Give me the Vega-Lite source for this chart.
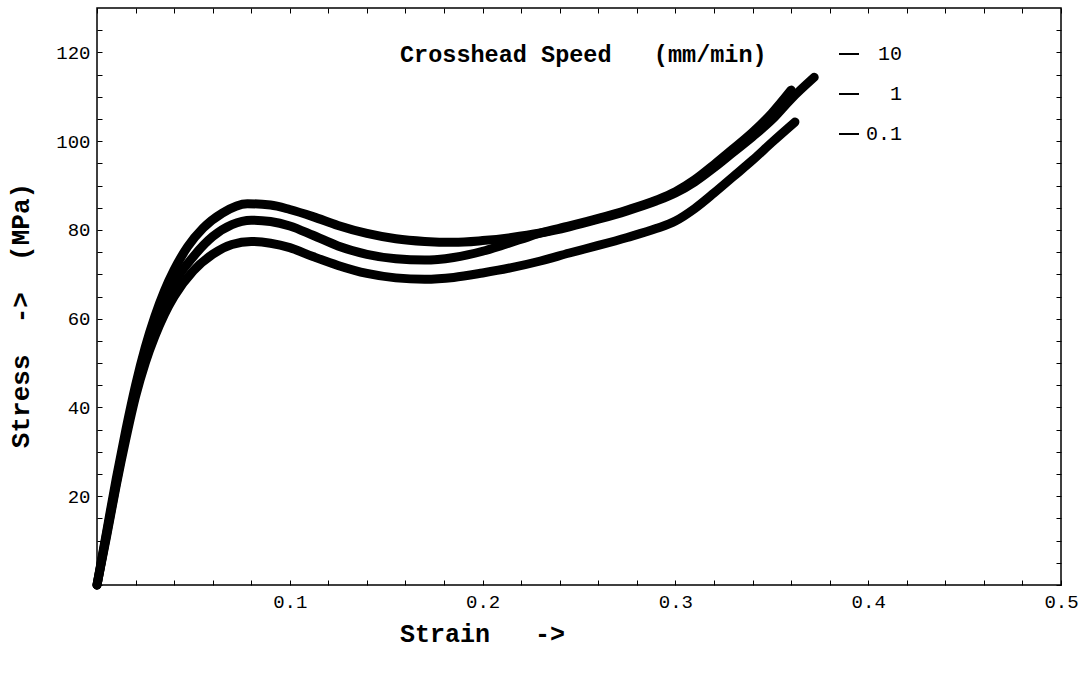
{
  "$schema": "https://vega.github.io/schema/vega-lite/v6.json",
  "width": 964,
  "height": 577,
  "autosize": {"type": "none"},
  "padding": {"left": 97, "top": 8, "right": 22, "bottom": 90},
  "background": "white",
  "config": {
    "view": {"stroke": "black", "strokeWidth": 1.5},
    "font": "Liberation Mono",
    "axis": {"grid": false, "domain": false, "tickColor": "black", "tickWidth": 1, "labelColor": "black", "titleColor": "black", "labelFont": "Liberation Mono", "titleFont": "Liberation Mono"}
  },
  "data": {
    "values": [
      {"speed": "10", "strain": 0, "stress": 0},
      {"speed": "10", "strain": 0.005, "stress": 12},
      {"speed": "10", "strain": 0.01, "stress": 24},
      {"speed": "10", "strain": 0.015, "stress": 35},
      {"speed": "10", "strain": 0.02, "stress": 45},
      {"speed": "10", "strain": 0.025, "stress": 53.5},
      {"speed": "10", "strain": 0.03, "stress": 60.5},
      {"speed": "10", "strain": 0.035, "stress": 66.3},
      {"speed": "10", "strain": 0.04, "stress": 71},
      {"speed": "10", "strain": 0.047, "stress": 76.2},
      {"speed": "10", "strain": 0.055, "stress": 80.4},
      {"speed": "10", "strain": 0.065, "stress": 83.8},
      {"speed": "10", "strain": 0.078, "stress": 85.9},
      {"speed": "10", "strain": 0.09, "stress": 85.6},
      {"speed": "10", "strain": 0.1, "stress": 84.6},
      {"speed": "10", "strain": 0.112, "stress": 83},
      {"speed": "10", "strain": 0.125, "stress": 81},
      {"speed": "10", "strain": 0.14, "stress": 79.2},
      {"speed": "10", "strain": 0.155, "stress": 78},
      {"speed": "10", "strain": 0.17, "stress": 77.4},
      {"speed": "10", "strain": 0.185, "stress": 77.2},
      {"speed": "10", "strain": 0.2, "stress": 77.6},
      {"speed": "10", "strain": 0.215, "stress": 78.3},
      {"speed": "10", "strain": 0.23, "stress": 79.3},
      {"speed": "10", "strain": 0.245, "stress": 80.7},
      {"speed": "10", "strain": 0.26, "stress": 82.4},
      {"speed": "10", "strain": 0.275, "stress": 84.3},
      {"speed": "10", "strain": 0.29, "stress": 86.5},
      {"speed": "10", "strain": 0.3, "stress": 88.3},
      {"speed": "10", "strain": 0.31, "stress": 90.8},
      {"speed": "10", "strain": 0.32, "stress": 94},
      {"speed": "10", "strain": 0.33, "stress": 97.5},
      {"speed": "10", "strain": 0.34, "stress": 101},
      {"speed": "10", "strain": 0.35, "stress": 104.8},
      {"speed": "10", "strain": 0.36, "stress": 109.5},
      {"speed": "10", "strain": 0.372, "stress": 114.4},
      {"speed": "1", "strain": 0, "stress": 0},
      {"speed": "1", "strain": 0.005, "stress": 11.5},
      {"speed": "1", "strain": 0.01, "stress": 23},
      {"speed": "1", "strain": 0.015, "stress": 34},
      {"speed": "1", "strain": 0.02, "stress": 43.5},
      {"speed": "1", "strain": 0.025, "stress": 51.5},
      {"speed": "1", "strain": 0.03, "stress": 58},
      {"speed": "1", "strain": 0.035, "stress": 63.5},
      {"speed": "1", "strain": 0.04, "stress": 68},
      {"speed": "1", "strain": 0.05, "stress": 74},
      {"speed": "1", "strain": 0.06, "stress": 78.5},
      {"speed": "1", "strain": 0.07, "stress": 81.2},
      {"speed": "1", "strain": 0.08, "stress": 82.2},
      {"speed": "1", "strain": 0.09, "stress": 81.9},
      {"speed": "1", "strain": 0.1, "stress": 80.9},
      {"speed": "1", "strain": 0.112, "stress": 78.8},
      {"speed": "1", "strain": 0.125, "stress": 76.4},
      {"speed": "1", "strain": 0.14, "stress": 74.5},
      {"speed": "1", "strain": 0.155, "stress": 73.5},
      {"speed": "1", "strain": 0.17, "stress": 73.2},
      {"speed": "1", "strain": 0.185, "stress": 73.8},
      {"speed": "1", "strain": 0.2, "stress": 75.2},
      {"speed": "1", "strain": 0.21, "stress": 76.5},
      {"speed": "1", "strain": 0.22, "stress": 77.9},
      {"speed": "1", "strain": 0.23, "stress": 79.3},
      {"speed": "1", "strain": 0.245, "stress": 80.9},
      {"speed": "1", "strain": 0.26, "stress": 82.6},
      {"speed": "1", "strain": 0.275, "stress": 84.5},
      {"speed": "1", "strain": 0.29, "stress": 86.7},
      {"speed": "1", "strain": 0.3, "stress": 88.6},
      {"speed": "1", "strain": 0.31, "stress": 91.3},
      {"speed": "1", "strain": 0.32, "stress": 94.7},
      {"speed": "1", "strain": 0.33, "stress": 98.3},
      {"speed": "1", "strain": 0.34, "stress": 102},
      {"speed": "1", "strain": 0.35, "stress": 106.3},
      {"speed": "1", "strain": 0.36, "stress": 111.5},
      {"speed": "0.1", "strain": 0, "stress": 0},
      {"speed": "0.1", "strain": 0.005, "stress": 11},
      {"speed": "0.1", "strain": 0.01, "stress": 22.5},
      {"speed": "0.1", "strain": 0.015, "stress": 33},
      {"speed": "0.1", "strain": 0.02, "stress": 42.5},
      {"speed": "0.1", "strain": 0.025, "stress": 50},
      {"speed": "0.1", "strain": 0.03, "stress": 56},
      {"speed": "0.1", "strain": 0.035, "stress": 61},
      {"speed": "0.1", "strain": 0.04, "stress": 65},
      {"speed": "0.1", "strain": 0.05, "stress": 70.8},
      {"speed": "0.1", "strain": 0.06, "stress": 74.5},
      {"speed": "0.1", "strain": 0.07, "stress": 76.7},
      {"speed": "0.1", "strain": 0.08, "stress": 77.4},
      {"speed": "0.1", "strain": 0.09, "stress": 77},
      {"speed": "0.1", "strain": 0.1, "stress": 76},
      {"speed": "0.1", "strain": 0.112, "stress": 74},
      {"speed": "0.1", "strain": 0.125, "stress": 72},
      {"speed": "0.1", "strain": 0.14, "stress": 70.2},
      {"speed": "0.1", "strain": 0.155, "stress": 69.2},
      {"speed": "0.1", "strain": 0.17, "stress": 68.9},
      {"speed": "0.1", "strain": 0.185, "stress": 69.3},
      {"speed": "0.1", "strain": 0.2, "stress": 70.3},
      {"speed": "0.1", "strain": 0.215, "stress": 71.5},
      {"speed": "0.1", "strain": 0.23, "stress": 73},
      {"speed": "0.1", "strain": 0.245, "stress": 74.8},
      {"speed": "0.1", "strain": 0.26, "stress": 76.5},
      {"speed": "0.1", "strain": 0.275, "stress": 78.3},
      {"speed": "0.1", "strain": 0.29, "stress": 80.3},
      {"speed": "0.1", "strain": 0.3, "stress": 82},
      {"speed": "0.1", "strain": 0.31, "stress": 84.8},
      {"speed": "0.1", "strain": 0.32, "stress": 88.3},
      {"speed": "0.1", "strain": 0.33, "stress": 92},
      {"speed": "0.1", "strain": 0.34, "stress": 95.7},
      {"speed": "0.1", "strain": 0.35, "stress": 99.7},
      {"speed": "0.1", "strain": 0.362, "stress": 104.3}
    ]
  },
  "layer": [
    {
      "mark": {"type": "line", "strokeWidth": 9, "strokeCap": "round", "strokeJoin": "round", "interpolate": "monotone"},
      "encoding": {
        "x": {
          "field": "strain", "type": "quantitative",
          "scale": {"domain": [0, 0.5], "nice": false, "zero": false},
          "axis": {
            "orient": "bottom",
            "values": [0, 0.02, 0.04, 0.06, 0.08, 0.1, 0.12, 0.14, 0.16, 0.18, 0.2, 0.22, 0.24, 0.26, 0.28, 0.3, 0.32, 0.34, 0.36, 0.38, 0.4, 0.42, 0.44, 0.46, 0.48, 0.5],
            "labelExpr": "datum.value > 0 && abs(datum.value * 10 - round(datum.value * 10)) < 0.001 ? format(datum.value, '.1f') : ''",
            "labelOverlap": false,
            "labelFlush": false,
            "labelFontSize": 19,
            "tickSize": -5,
            "labelPadding": 12,
            "title": "Strain\u00a0\u00a0\u00a0->",
            "titleFontSize": 25,
            "titleFontWeight": "bold",
            "titleX": 385,
            "titleY": 36,
            "titleAlign": "center",
            "titleBaseline": "top"
          }
        },
        "y": {
          "field": "stress", "type": "quantitative",
          "scale": {"domain": [0, 130], "nice": false},
          "axis": {
            "orient": "left",
            "values": [0, 5, 10, 15, 20, 25, 30, 35, 40, 45, 50, 55, 60, 65, 70, 75, 80, 85, 90, 95, 100, 105, 110, 115, 120, 125],
            "labelExpr": "datum.value > 0 && datum.value % 20 == 0 ? datum.label : ''",
            "labelOverlap": false,
            "labelFlush": false,
            "labelFontSize": 19,
            "tickSize": -5,
            "labelPadding": 12,
            "title": "Stress\u00a0\u00a0->\u00a0\u00a0(MPa)",
            "titleFontSize": 26,
            "titleFontWeight": "bold",
            "titleAngle": -90,
            "titleX": -77,
            "titleY": 307,
            "titleAlign": "center",
            "titleBaseline": "middle"
          }
        },
        "color": {
          "field": "speed", "type": "nominal",
          "scale": {"domain": ["10", "1", "0.1"], "range": ["black", "black", "black"]},
          "legend": {
            "orient": "none",
            "legendX": 303,
            "legendY": 35,
            "title": "Crosshead Speed\u00a0\u00a0\u00a0(mm/min)",
            "titleOrient": "left",
            "titleAnchor": "start",
            "titleLimit": 600,
            "titleFont": "Liberation Mono",
            "titleFontSize": 23.5,
            "titleFontWeight": "bold",
            "titleColor": "black",
            "titlePadding": 71,
            "symbolType": "stroke",
            "symbolSize": 400,
            "symbolStrokeWidth": 2,
            "symbolStrokeColor": "black",
            "labelFont": "Liberation Mono",
            "labelFontSize": 20,
            "labelColor": "black",
            "labelAlign": "right",
            "labelOffset": 42,
            "rowPadding": 19
          }
        }
      }
    },
    {
      "mark": {"type": "line", "strokeOpacity": 0},
      "encoding": {
        "x": {
          "field": "strain", "type": "quantitative",
          "axis": {
            "orient": "top",
            "values": [0, 0.02, 0.04, 0.06, 0.08, 0.1, 0.12, 0.14, 0.16, 0.18, 0.2, 0.22, 0.24, 0.26, 0.28, 0.3, 0.32, 0.34, 0.36, 0.38, 0.4, 0.42, 0.44, 0.46, 0.48, 0.5],
            "labels": false,
            "tickSize": -5,
            "title": null
          }
        },
        "y": {
          "field": "stress", "type": "quantitative",
          "axis": {
            "orient": "right",
            "values": [0, 5, 10, 15, 20, 25, 30, 35, 40, 45, 50, 55, 60, 65, 70, 75, 80, 85, 90, 95, 100, 105, 110, 115, 120, 125],
            "labels": false,
            "tickSize": -5,
            "title": null
          }
        }
      }
    }
  ],
  "resolve": {"axis": {"x": "independent", "y": "independent"}}
}
